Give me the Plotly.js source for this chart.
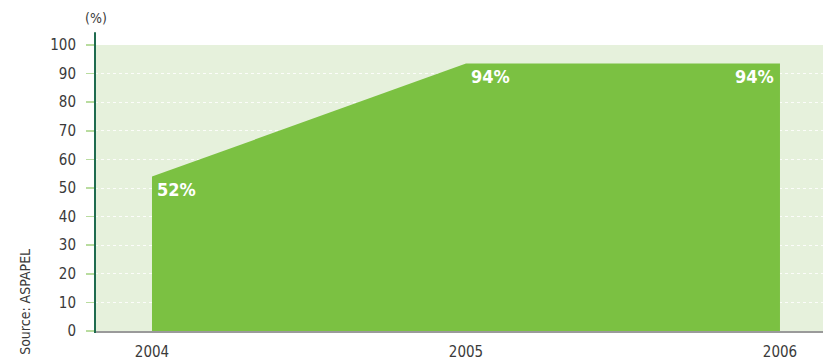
<!DOCTYPE html>
<html><head><meta charset="utf-8">
<script src="https://cdn.plot.ly/plotly-3.0.1.min.js"></script>
<style>html,body{margin:0;padding:0;background:#fff}#c{width:823px;height:359px}</style>
</head><body><div id="c"></div>
<script>
const years = [2004, 2005, 2006];
const values = [54, 93.5, 93.5];
const labels = ['52%', '94%', '94%'];
const yTicks = [0, 10, 20, 30, 40, 50, 60, 70, 80, 90, 100];
const xTickLabels = ['2004', '2005', '2006'];

const FONT = '"DejaVu Sans Condensed", "Liberation Sans Narrow", sans-serif';

const trace = {
  x: years, y: values, type: 'scatter', mode: 'none',
  fill: 'tozeroy', fillcolor: '#7bc142', hoverinfo: 'skip'
};

const anchors = ['left', 'left', 'right'];
const shifts = [3, 3, -4];
const annotations = years.map((yr, i) => ({
  x: yr, y: values[i], xref: 'x', yref: 'y', text: '<b>' + labels[i] + '</b>',
  showarrow: false, xanchor: anchors[i], yanchor: 'top', xshift: shifts[i], yshift: 0,
  font: {family: FONT, size: 18, color: '#ffffff'}
}));

const layout = {
  width: 823, height: 359,
  margin: {l: 95, r: 0, t: 45, b: 28},
  paper_bgcolor: '#ffffff', plot_bgcolor: '#e6f1dc',
  showlegend: false,
  xaxis: {
    range: [2003.8185, 2006.137], tickvals: years, ticktext: xTickLabels,
    showgrid: false, zeroline: false, showline: true, linecolor: '#9a9a9a', linewidth: 1.5,
    ticks: '', tickfont: {family: FONT, size: 15, color: '#3a3a3a'}, ticklabelstandoff: 6
  },
  yaxis: {
    range: [0, 100], tickvals: yTicks, showgrid: true, gridcolor: 'rgba(255,255,255,0.85)', griddash: 'dot', gridwidth: 1,
    zeroline: false, showline: false, ticks: 'outside', ticklen: 8, tickcolor: '#b9dc9f', tickwidth: 1.5,
    tickfont: {family: FONT, size: 15, color: '#3a3a3a'}, ticklabelstandoff: 7
  },
  annotations: annotations.concat([
    {xref: 'paper', yref: 'paper', x: 0.0015, y: 1.095, text: '(%)', showarrow: false,
     xanchor: 'center', yanchor: 'middle', font: {family: FONT, size: 14, color: '#3a3a3a'}},
    {xref: 'paper', yref: 'paper', x: -0.096, y: -0.09, text: 'Source: ASPAPEL', showarrow: false,
     textangle: -90, xanchor: 'center', yanchor: 'bottom', font: {family: FONT, size: 14, color: '#3a3a3a'}}
  ]),
  shapes: [
    {type: 'line', xref: 'paper', yref: 'paper', x0: 0, x1: 0, y0: -0.007, y1: 1.045,
     line: {color: '#1f6b4f', width: 2}}
  ]
};

Plotly.newPlot('c', [trace], layout, {displayModeBar: false, staticPlot: true});
</script></body></html>
